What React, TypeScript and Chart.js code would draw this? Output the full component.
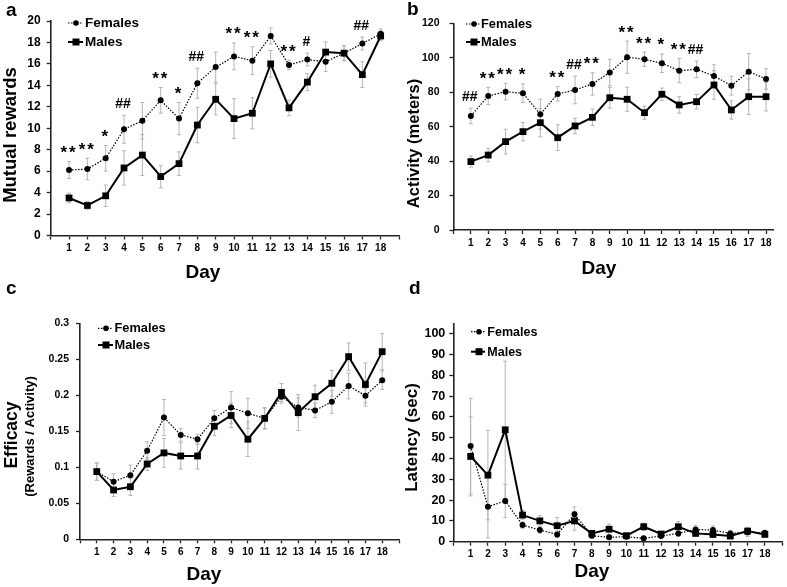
import React, { useEffect, useRef } from "react";
import { Chart, registerables } from "chart.js";

Chart.register(...registerables);

const FONT = '"Liberation Sans", Arial, Helvetica, sans-serif';

// ---------- data ----------
const days = [1, 2, 3, 4, 5, 6, 7, 8, 9, 10, 11, 12, 13, 14, 15, 16, 17, 18];
const dayLabels = days.map(String);
const xTickValues = [0, 1, 2, 3, 4, 5, 6, 7, 8, 9, 10, 11, 12, 13, 14, 15, 16, 17, 18, 19];
const seriesNames = ["Females", "Males"];

// a: Mutual rewards
const rewardsTicks = [0, 2, 4, 6, 8, 10, 12, 14, 16, 18, 20];
const rewardsFemales = [6.1, 6.2, 7.2, 9.9, 10.7, 12.6, 10.9, 14.2, 15.7, 16.7, 16.3, 18.6, 15.9, 16.4, 16.2, 17.0, 17.9, 18.8];
const rewardsFemalesErr = [0.78, 1.0, 1.2, 1.3, 1.7, 1.2, 1.5, 1.4, 1.4, 1.25, 1.3, 0.75, 0.45, 0.6, 0.9, 0.7, 0.6, 0.45];
const rewardsMales = [3.5, 2.8, 3.7, 6.3, 7.5, 5.5, 6.7, 10.3, 12.7, 10.9, 11.4, 16.0, 11.9, 14.3, 17.1, 17.0, 15.0, 18.6];
const rewardsMalesErr = [0.45, 0.35, 1.0, 1.6, 1.9, 1.05, 1.1, 1.65, 1.45, 1.85, 1.45, 1.25, 0.73, 0.8, 0.95, 0.7, 1.2, 0.45];
const rewardsSig = ["**", "**", "*", "##", "", "**", "*", "##", "", "**", "**", "", "**", "#", "", "", "##", ""];

// b: Activity (meters)
const activityTicks = [0, 20, 40, 60, 80, 100, 120];
const activityFemales = [66.2, 77.8, 80.3, 79.4, 67.2, 79.0, 81.3, 84.8, 91.4, 100.3, 99.1, 96.8, 92.5, 93.3, 89.4, 83.8, 91.9, 87.7];
const activityFemalesErr = [4.5, 5.0, 4.8, 5.4, 8.7, 4.2, 8.0, 6.5, 7.7, 9.4, 4.2, 5.4, 7.0, 4.8, 6.5, 5.5, 10.5, 5.9];
const activityMales = [39.7, 43.5, 51.3, 57.1, 62.3, 53.6, 60.4, 65.4, 76.8, 75.9, 68.1, 78.8, 72.6, 74.5, 84.2, 69.7, 77.4, 77.4];
const activityMalesErr = [3.2, 3.9, 7.2, 5.3, 8.2, 7.5, 4.5, 4.8, 6.0, 7.0, 3.8, 3.6, 4.8, 4.2, 8.3, 5.3, 10.4, 8.3];
const activitySig = ["##", "**", "**", "*", "", "**", "##", "**", "", "**", "**", "*", "**", "##", "", "", "", ""];

// c: Efficacy
const efficacyTicks = [0, 0.05, 0.1, 0.15, 0.2, 0.25, 0.3];
const efficacyFemales = [0.094, 0.080, 0.089, 0.123, 0.169, 0.145, 0.139, 0.168, 0.183, 0.175, 0.168, 0.198, 0.183, 0.179, 0.191, 0.213, 0.1995, 0.221];
const efficacyFemalesErr = [0.012, 0.011, 0.014, 0.0125, 0.025, 0.009, 0.007, 0.011, 0.022, 0.021, 0.015, 0.009, 0.013, 0.010, 0.016, 0.018, 0.010, 0.013];
const efficacyMales = [0.094, 0.0685, 0.073, 0.1046, 0.120, 0.1157, 0.1157, 0.157, 0.172, 0.139, 0.168, 0.204, 0.176, 0.198, 0.2167, 0.2537, 0.215, 0.2606];
const efficacyMalesErr = [0.012, 0.009, 0.012, 0.009, 0.020, 0.018, 0.018, 0.013, 0.017, 0.024, 0.014, 0.0125, 0.025, 0.016, 0.018, 0.019, 0.03, 0.025];

// d: Latency (sec)
const latencyTicks = [0, 10, 20, 30, 40, 50, 60, 70, 80, 90, 100];
const latencyFemales = [46, 16.8, 19.6, 8.0, 5.6, 3.5, 13.2, 2.9, 2.1, 2.4, 1.6, 2.7, 4.0, 5.9, 5.6, 4.0, 4.5, 4.3];
const latencyFemalesErr = [23, 15, 8, 1.5, 1.5, 1.5, 3.5, 1, 1, 1, 1, 1, 1.5, 2, 2, 1.5, 2, 1];
const latencyMales = [41, 32, 53.8, 12.8, 10, 7.7, 10, 4, 6, 2.9, 7.2, 3.7, 7.2, 4, 3.5, 2.7, 5.1, 3.5];
const latencyMalesErr = [19, 21.5, 33, 2, 2.5, 4, 4.5, 1, 2.5, 1, 1.8, 1, 2.5, 1.5, 1.5, 1, 1.8, 1];

// ---------- layout ----------
const W = 787;
const H = 587;
const YW = 40;
const XH = 30;

type Panel = {
  letter: string;
  letterPos: [number, number];
  area: { l: number; r: number; t: number; b: number };
  xMax: number;
  yMax: number;
  yTicks: number[];
  yTickFont: number;
  yTickPad: number;
  females: number[];
  femalesErr: number[];
  males: number[];
  malesErr: number[];
  sig: string[] | null;
  yTitles: { text: string; size: number; x: number; y: number }[];
  dayPos: [number, number];
  legend: { x1: number; x2: number; mx: number; tx: number; y1: number; y2: number; size: number };
};

const panels: Panel[] = [
  {
    letter: "a",
    letterPos: [6, 16],
    area: { l: 50.7, r: 399, t: 21, b: 235.5 },
    xMax: 19,
    yMax: 20,
    yTicks: rewardsTicks,
    yTickFont: 12,
    yTickPad: 6,
    females: rewardsFemales,
    femalesErr: rewardsFemalesErr,
    males: rewardsMales,
    malesErr: rewardsMalesErr,
    sig: rewardsSig,
    yTitles: [{ text: "Mutual rewards", size: 18.5, x: 10.5, y: 135 }],
    dayPos: [203, 273],
    legend: { x1: 68, x2: 83, mx: 76, tx: 85, y1: 23, y2: 42, size: 13.5 },
  },
  {
    letter: "b",
    letterPos: [407, 15],
    area: { l: 453.5, r: 773, t: 23.3, b: 230 },
    xMax: 18.4,
    yMax: 120,
    yTicks: activityTicks,
    yTickFont: 10.5,
    yTickPad: 10,
    females: activityFemales,
    femalesErr: activityFemalesErr,
    males: activityMales,
    malesErr: activityMalesErr,
    sig: activitySig,
    yTitles: [{ text: "Activity (meters)", size: 16.5, x: 414.5, y: 143.5 }],
    dayPos: [599, 269],
    legend: { x1: 466, x2: 480, mx: 474, tx: 481, y1: 24, y2: 42, size: 12.8 },
  },
  {
    letter: "c",
    letterPos: [6, 294],
    area: { l: 80, r: 399, t: 323.3, b: 539.3 },
    xMax: 19,
    yMax: 0.3,
    yTicks: efficacyTicks,
    yTickFont: 10.5,
    yTickPad: 7,
    females: efficacyFemales,
    femalesErr: efficacyFemalesErr,
    males: efficacyMales,
    malesErr: efficacyMalesErr,
    sig: null,
    yTitles: [
      { text: "Efficacy", size: 17.5, x: 12, y: 435 },
      { text: "(Rewards / Activity)", size: 13, x: 30, y: 436.5 },
    ],
    dayPos: [204, 575],
    legend: { x1: 98, x2: 113, mx: 106, tx: 114.5, y1: 328.3, y2: 345, size: 12.8 },
  },
  {
    letter: "d",
    letterPos: [409, 294],
    area: { l: 453.3, r: 783, t: 323.3, b: 541.7 },
    xMax: 19,
    yMax: 105,
    yTicks: latencyTicks,
    yTickFont: 12.5,
    yTickPad: 4,
    females: latencyFemales,
    femalesErr: latencyFemalesErr,
    males: latencyMales,
    malesErr: latencyMalesErr,
    sig: null,
    yTitles: [{ text: "Latency (sec)", size: 17, x: 412.5, y: 437.5 }],
    dayPos: [592, 572],
    legend: { x1: 471, x2: 485, mx: 479, tx: 487.3, y1: 331.7, y2: 351.7, size: 12.5 },
  },
];

function buildConfig(p: Panel): any {
  const decor = {
    id: "decor" + p.letter,
    beforeDatasetsDraw(chart: any) {
      const ctx = chart.ctx;
      const xs = chart.scales.x;
      const ys = chart.scales.y;
      const sets: [number[], number[]][] = [
        [p.females, p.femalesErr],
        [p.males, p.malesErr],
      ];
      ctx.save();
      ctx.strokeStyle = "#b4b4b4";
      ctx.lineWidth = 1;
      for (const [vals, errs] of sets) {
        vals.forEach((v, i) => {
          const x = xs.getPixelForValue(days[i]);
          const yt = ys.getPixelForValue(v + errs[i]);
          const yb = ys.getPixelForValue(Math.max(v - errs[i], 0));
          ctx.beginPath();
          ctx.moveTo(x, yt);
          ctx.lineTo(x, yb);
          ctx.moveTo(x - 2, yt);
          ctx.lineTo(x + 2, yt);
          ctx.moveTo(x - 2, yb);
          ctx.lineTo(x + 2, yb);
          ctx.stroke();
        });
      }
      ctx.restore();
    },
    afterDatasetsDraw(chart: any) {
      if (!p.sig) return;
      const ctx = chart.ctx;
      const xs = chart.scales.x;
      const ys = chart.scales.y;
      ctx.save();
      ctx.fillStyle = "#000";
      ctx.textAlign = "center";
      ctx.textBaseline = "alphabetic";
      p.sig.forEach((s, i) => {
        if (!s) return;
        const star = s.indexOf("*") >= 0;
        ctx.font = `bold ${star ? 17 : 14}px ${FONT}`;
        const m = ctx.measureText(s);
        const x = xs.getPixelForValue(days[i]) - 1;
        const top = ys.getPixelForValue(p.females[i] + p.femalesErr[i]);
        const center = top - 12;
        const base = center + (m.actualBoundingBoxAscent - m.actualBoundingBoxDescent) / 2;
        if (star) {
          // asterisks are spaced apart as in the figure
          const n = s.length;
          const gap = 8.5;
          for (let k = 0; k < n; k++) {
            ctx.fillText("*", x + (k - (n - 1) / 2) * gap, base);
          }
        } else {
          ctx.fillText(s, x, base);
        }
      });
      ctx.restore();
    },
    afterDraw(chart: any) {
      const ctx = chart.ctx;
      ctx.save();
      ctx.fillStyle = "#000";
      // panel letter
      ctx.font = `bold 19px ${FONT}`;
      ctx.textAlign = "left";
      ctx.textBaseline = "alphabetic";
      ctx.fillText(p.letter, p.letterPos[0], p.letterPos[1]);
      // y titles
      for (const t of p.yTitles) {
        ctx.save();
        ctx.translate(t.x, t.y);
        ctx.rotate(-Math.PI / 2);
        ctx.font = `bold ${t.size}px ${FONT}`;
        ctx.textAlign = "center";
        ctx.textBaseline = "middle";
        ctx.fillText(t.text, 0, 0);
        ctx.restore();
      }
      // x title
      ctx.font = `bold 19px ${FONT}`;
      ctx.textAlign = "center";
      ctx.textBaseline = "middle";
      ctx.fillText("Day", p.dayPos[0], p.dayPos[1]);
      // legend
      const L = p.legend;
      ctx.strokeStyle = "#000";
      ctx.lineWidth = 1.2;
      ctx.setLineDash([1.5, 1.5]);
      ctx.beginPath();
      ctx.moveTo(L.x1, L.y1);
      ctx.lineTo(L.x2, L.y1);
      ctx.stroke();
      ctx.setLineDash([]);
      ctx.beginPath();
      ctx.arc(L.mx, L.y1, 2.8, 0, Math.PI * 2);
      ctx.fill();
      ctx.lineWidth = 2;
      ctx.beginPath();
      ctx.moveTo(L.x1, L.y2);
      ctx.lineTo(L.x2, L.y2);
      ctx.stroke();
      ctx.fillRect(L.mx - 3.5, L.y2 - 3.5, 7, 7);
      ctx.font = `bold ${L.size}px ${FONT}`;
      ctx.textAlign = "left";
      ctx.textBaseline = "middle";
      ctx.fillText(seriesNames[0], L.tx, L.y1 + 0.5);
      ctx.fillText(seriesNames[1], L.tx, L.y2 + 0.5);
      ctx.restore();
    },
  };

  const a = p.area;
  const xTicks = xTickValues.filter((v) => v <= p.xMax);
  return {
    type: "line",
    data: {
      datasets: [
        {
          label: seriesNames[0],
          data: p.females.map((v, i) => ({ x: days[i], y: v })),
          borderColor: "#000",
          borderWidth: 1.2,
          borderDash: [1.5, 1.5],
          pointStyle: "circle",
          pointRadius: 3,
          pointBackgroundColor: "#000",
          pointBorderWidth: 0,
          tension: 0,
          clip: false,
        },
        {
          label: seriesNames[1],
          data: p.males.map((v, i) => ({ x: days[i], y: v })),
          borderColor: "#000",
          borderWidth: 2,
          pointStyle: "rect",
          pointRadius: 4.8,
          pointBackgroundColor: "#000",
          pointBorderWidth: 0,
          tension: 0,
          clip: false,
        },
      ],
    },
    options: {
      responsive: false,
      animation: false,
      events: [],
      layout: {
        padding: { left: a.l - YW, right: W - a.r, top: a.t, bottom: H - a.b - XH },
      },
      plugins: { legend: { display: false }, tooltip: { enabled: false }, title: { display: false } },
      scales: {
        x: {
          type: "linear",
          min: 0,
          max: p.xMax,
          afterFit: (s: any) => {
            s.height = XH;
          },
          afterBuildTicks: (s: any) => {
            s.ticks = xTicks.map((v) => ({ value: v }));
          },
          ticks: {
            autoSkip: false,
            maxRotation: 0,
            padding: 3,
            color: "#000",
            font: { family: FONT, size: 10, weight: "bold" },
            callback: (v: number) => (v >= 1 && v <= days.length ? dayLabels[v - 1] : ""),
          },
          grid: { drawOnChartArea: false, drawTicks: true, tickLength: 4, tickColor: "#222", tickWidth: 1.3 },
          border: { display: true, color: "#222", width: 1.6 },
        },
        y: {
          type: "linear",
          min: 0,
          max: p.yMax,
          afterFit: (s: any) => {
            s.width = YW;
          },
          afterBuildTicks: (s: any) => {
            s.ticks = p.yTicks.map((v) => ({ value: v }));
          },
          ticks: {
            autoSkip: false,
            padding: p.yTickPad,
            color: "#000",
            font: { family: FONT, size: p.yTickFont, weight: "bold" },
            callback: (v: number) => String(v),
          },
          grid: { drawOnChartArea: false, drawTicks: true, tickLength: 4, tickColor: "#222", tickWidth: 1.3 },
          border: { display: true, color: "#222", width: 1.6 },
        },
      },
    },
    plugins: [decor],
  };
}

function PanelChart({ panel }: { panel: Panel }) {
  const ref = useRef<HTMLCanvasElement>(null);
  useEffect(() => {
    if (!ref.current) return;
    const chart = new Chart(ref.current, buildConfig(panel));
    return () => chart.destroy();
  }, [panel]);
  return (
    <canvas
      ref={ref}
      width={W}
      height={H}
      style={{ position: "absolute", left: 0, top: 0, width: W, height: H }}
    />
  );
}

export default function App() {
  return (
    <div style={{ position: "absolute", left: 0, top: 0, width: W, height: H, background: "#fff" }}>
      {panels.map((p) => (
        <PanelChart key={p.letter} panel={p} />
      ))}
    </div>
  );
}
